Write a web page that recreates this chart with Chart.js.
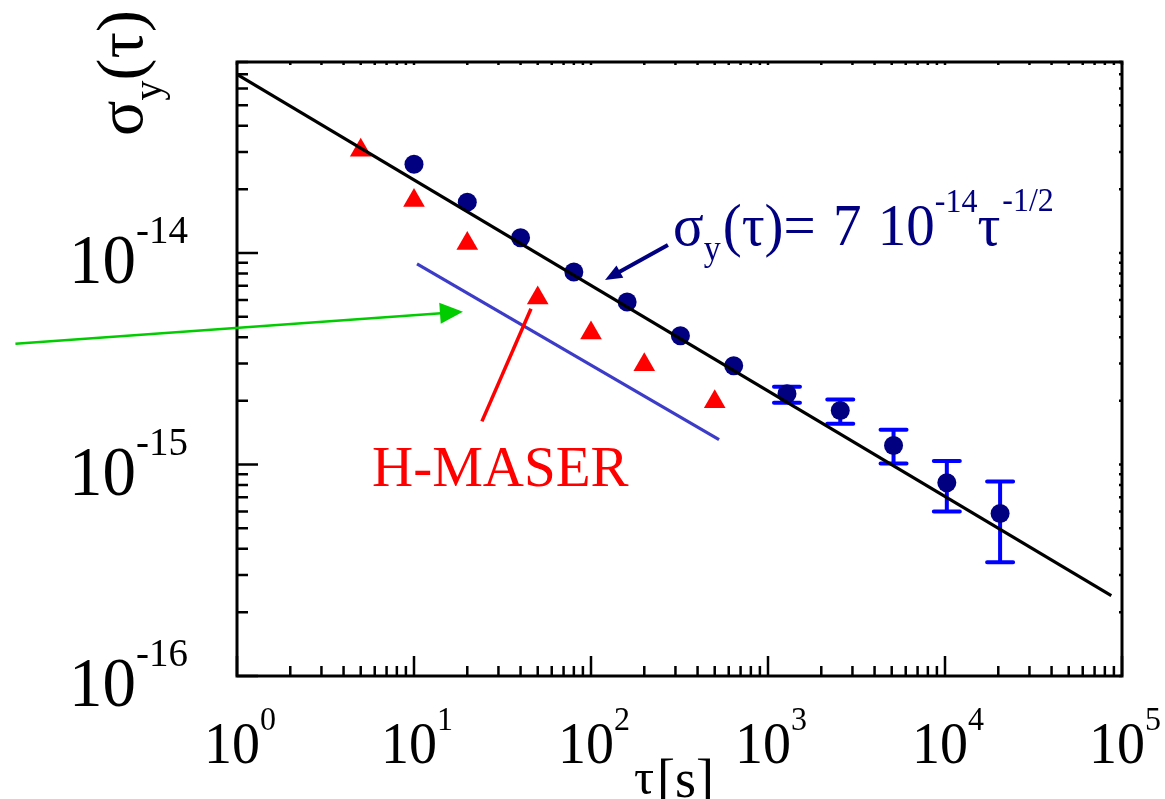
<!DOCTYPE html>
<html lang="en">
<head>
    <meta charset="UTF-8">
    <title>Allan deviation</title>
    <script src="https://cdn.jsdelivr.net/npm/chart.js"></script>
    <style>
        body { margin: 0; background: #ffffff; }
        #wrap { width: 1165px; height: 799px; }
    </style>
</head>
<body>
    <div id="wrap"><canvas id="myChart" width="1165" height="799"></canvas></div>
    <script>
        // averaging time tau [s] and Allan deviation
        const tauCs = [10, 20, 40, 80, 160, 320, 640, 1280, 2560, 5120, 10240, 20480];
        const sigCs = [2.63e-14, 1.74e-14, 1.18e-14, 8.13e-15, 5.87e-15, 4.06e-15, 2.93e-15,
                       2.16e-15, 1.80e-15, 1.23e-15, 8.2e-16, 5.87e-16];
        const errHi = [null, null, null, null, null, null, null, 2.33e-15, 2.03e-15, 1.46e-15, 1.04e-15, 8.3e-16];
        const errLo = [null, null, null, null, null, null, null, 1.96e-15, 1.56e-15, 1.01e-15, 6.0e-16, 3.45e-16];

        const tauMaser = [5, 10, 20, 50, 100, 200, 500];
        const sigMaser = [3.06e-14, 1.77e-14, 1.11e-14, 6.13e-15, 4.19e-15, 2.96e-15, 1.98e-15];

        // sigma = 7e-14 tau^-1/2 fit, end points
        const fitTau = [1, 87000];
        const fitSig = [7.0e-14, 2.4e-16];

        // blue reference slope line
        const refTau = [10.4, 529];
        const refSig = [8.88e-15, 1.31e-15];

        const xMajor = [1, 10, 100, 1000, 10000, 100000];
        const xExp = ['0', '1', '2', '3', '4', '5'];
        const yMajor = [1e-16, 1e-15, 1e-14];
        const yExp = ['-16', '-15', '-14'];

        const pts = (xs, ys) => xs.map((x, i) => ({ x: x, y: ys[i] }));

        const serif = '"Liberation Serif", "Times New Roman", serif';
        const NAVY = '#000080';

        function supText(ctx, x, y, base, exp, fB, fE, rise, align, stretch) {
            ctx.font = fB + 'px ' + serif;
            const wB = ctx.measureText(base).width;
            ctx.font = fE + 'px ' + serif;
            const wE = ctx.measureText(exp).width;
            let x0 = x;
            if (align === 'center') x0 = x - (wB + wE) / 2;
            if (align === 'right') x0 = x - (wB + wE);
            ctx.save();
            ctx.translate(x0, y);
            ctx.scale(1, stretch);
            ctx.textAlign = 'left';
            ctx.textBaseline = 'alphabetic';
            ctx.font = fB + 'px ' + serif;
            ctx.fillText(base, 0, 0);
            ctx.font = fE + 'px ' + serif;
            ctx.fillText(exp, wB, -rise / stretch);
            ctx.restore();
            return wB + wE;
        }

        function arrow(ctx, x1, y1, x2, y2, color, lw, hl, hw) {
            const a = Math.atan2(y2 - y1, x2 - x1);
            ctx.save();
            ctx.strokeStyle = color;
            ctx.fillStyle = color;
            ctx.lineWidth = lw;
            ctx.beginPath();
            ctx.moveTo(x1, y1);
            ctx.lineTo(x2 - Math.cos(a) * hl * 0.8, y2 - Math.sin(a) * hl * 0.8);
            ctx.stroke();
            if (hl > 0) {
                ctx.beginPath();
                ctx.moveTo(x2, y2);
                ctx.lineTo(x2 - Math.cos(a) * hl - Math.sin(a) * hw, y2 - Math.sin(a) * hl + Math.cos(a) * hw);
                ctx.lineTo(x2 - Math.cos(a) * hl + Math.sin(a) * hw, y2 - Math.sin(a) * hl - Math.cos(a) * hw);
                ctx.closePath();
                ctx.fill();
            }
            ctx.restore();
        }

        const errorBars = {
            id: 'errorBars',
            beforeDatasetsDraw(chart) {
                const ctx = chart.ctx, xs = chart.scales.x, ys = chart.scales.y;
                ctx.save();
                ctx.strokeStyle = '#0000ff';
                ctx.lineWidth = 4;
                ctx.lineCap = 'round';
                tauCs.forEach((t, i) => {
                    if (errHi[i] == null) return;
                    const px = xs.getPixelForValue(t);
                    const yt = ys.getPixelForValue(errHi[i]);
                    const yb = ys.getPixelForValue(errLo[i]);
                    ctx.beginPath();
                    ctx.moveTo(px, yt); ctx.lineTo(px, yb);
                    ctx.moveTo(px - 13, yt); ctx.lineTo(px + 13, yt);
                    ctx.moveTo(px - 13, yb); ctx.lineTo(px + 13, yb);
                    ctx.stroke();
                });
                ctx.restore();
            }
        };

        const frame = {
            id: 'frame',
            afterDraw(chart) {
                const ctx = chart.ctx, a = chart.chartArea;
                const xs = chart.scales.x, ys = chart.scales.y;
                ctx.save();
                ctx.strokeStyle = '#000';
                ctx.lineWidth = 3;
                ctx.strokeRect(a.left, a.top, a.right - a.left, a.bottom - a.top);

                // ticks, pointing inward
                ctx.lineWidth = 2.5;
                ctx.beginPath();
                for (let e = 0; e < 5; e++) {
                    for (let k = 1; k <= 10; k++) {
                        const v = k * Math.pow(10, e);
                        if (v > 1e5) continue;
                        const px = xs.getPixelForValue(v);
                        const len = (k === 1 || k === 10) ? 20 : 10;
                        ctx.moveTo(px, a.bottom); ctx.lineTo(px, a.bottom - len);
                        ctx.moveTo(px, a.top); ctx.lineTo(px, a.top + 3);
                    }
                }
                for (let e = -16; e <= -14; e++) {
                    for (let k = 1; k <= 9; k++) {
                        const v = k * Math.pow(10, e);
                        if (v > ys.max) continue;
                        const py = ys.getPixelForValue(v);
                        const len = k === 1 ? 21 : 11;
                        ctx.moveTo(a.left, py); ctx.lineTo(a.left + len, py);
                        ctx.moveTo(a.right, py); ctx.lineTo(a.right - 3, py);
                    }
                }
                ctx.stroke();

                // tick labels
                ctx.fillStyle = '#000';
                xMajor.forEach((v, i) => {
                    supText(ctx, xs.getPixelForValue(v) + 3, 763, '10', xExp[i], 56, 32, 33, 'center', 1.05);
                });
                yMajor.forEach((v, i) => {
                    supText(ctx, 69, ys.getPixelForValue(v) + 30, '10', yExp[i], 67, 39, 40, 'left', 1.05);
                });

                // axis titles
                ctx.font = '50px ' + serif;
                ctx.textBaseline = 'alphabetic';
                ctx.textAlign = 'left';
                ctx.fillText('\u03c4', 634, 794);
                ctx.font = '54px ' + serif;
                ctx.fillText('[s]', 657, 797);

                ctx.save();
                ctx.translate(142, 136);
                ctx.rotate(-Math.PI / 2);
                ctx.font = '66px ' + serif;
                let w = ctx.measureText('\u03c3').width;
                ctx.fillText('\u03c3', 0, 0);
                ctx.font = '40px ' + serif;
                ctx.fillText('y', w, 19);
                w += ctx.measureText('y').width;
                ctx.font = '66px ' + serif;
                ctx.fillText('(\u03c4)', w, 0);
                ctx.restore();

                // annotations
                const P = (t, s) => [xs.getPixelForValue(t), ys.getPixelForValue(s)];
                let p1 = P(0.056, 3.72e-15), p2 = P(18.9, 5.28e-15);
                arrow(ctx, p1[0], p1[1], p2[0], p2[1], '#00cc00', 2.5, 23, 10.5);
                p1 = P(24.2, 1.6e-15); p2 = P(45.8, 5.45e-15);
                arrow(ctx, p1[0], p1[1], p2[0], p2[1], '#ff0000', 3.5, 0, 0);
                p1 = P(272, 1.09e-14); p2 = P(120, 7.46e-15);
                arrow(ctx, p1[0], p1[1], p2[0], p2[1], NAVY, 4, 17, 7);

                ctx.fillStyle = '#ff0000';
                ctx.font = '57px ' + serif;
                ctx.fillText('H-MASER', 372, 486);

                // formula
                ctx.fillStyle = NAVY;
                let x = 673;
                const base = 245;
                ctx.save();
                ctx.translate(0, base);
                ctx.scale(1, 1.04);
                ctx.font = '57px ' + serif;
                ctx.fillText('\u03c3', x, 0); x += ctx.measureText('\u03c3').width;
                ctx.font = '34px ' + serif;
                ctx.fillText('y', x, 15 / 1.04); x += ctx.measureText('y').width + 2;
                ctx.font = '57px ' + serif;
                ctx.fillText('(\u03c4)=', x, 0); x += ctx.measureText('(\u03c4)=').width + 3;
                ctx.fillText(' 7 ', x, 0); x += ctx.measureText(' 7 ').width + 2;
                ctx.fillText('10', x, 0); x += ctx.measureText('10').width;
                ctx.font = '32px ' + serif;
                ctx.fillText('-14', x, -33 / 1.04); x += ctx.measureText('-14').width;
                ctx.font = '57px ' + serif;
                ctx.fillText('\u03c4', x, 0); x += ctx.measureText('\u03c4').width;
                ctx.font = '32px ' + serif;
                ctx.fillText('-1/2', x + 2, -34 / 1.04);
                ctx.restore();

                ctx.restore();
            }
        };

        const ctx = document.getElementById('myChart').getContext('2d');
        const myChart = new Chart(ctx, {
            type: 'scatter',
            data: {
                datasets: [{
                    type: 'line',
                    label: 'fit',
                    data: pts(fitTau, fitSig),
                    borderColor: '#000000',
                    borderWidth: 3.2,
                    pointRadius: 0,
                    fill: false
                }, {
                    label: 'clock',
                    data: pts(tauCs, sigCs),
                    pointStyle: 'circle',
                    pointRadius: 9.5,
                    backgroundColor: NAVY,
                    borderColor: NAVY,
                    borderWidth: 0
                }, {
                    label: 'H-MASER',
                    data: pts(tauMaser, sigMaser),
                    pointStyle: 'triangle',
                    pointRadius: 12.5,
                    backgroundColor: '#ff0000',
                    borderColor: '#ff0000',
                    borderWidth: 0
                }, {
                    type: 'line',
                    label: 'ref',
                    data: pts(refTau, refSig),
                    borderColor: '#3c3cc8',
                    borderWidth: 3.2,
                    pointRadius: 0,
                    fill: false
                }]
            },
            options: {
                responsive: false,
                animation: false,
                events: [],
                layout: { padding: { left: 237, right: 43, top: 62, bottom: 123 } },
                plugins: { legend: { display: false }, tooltip: { enabled: false } },
                scales: {
                    x: { type: 'logarithmic', min: 1, max: 1e5, display: false },
                    y: { type: 'logarithmic', min: 1e-16, max: 8e-14, display: false }
                }
            },
            plugins: [errorBars, frame]
        });
    </script>
</body>
</html>
